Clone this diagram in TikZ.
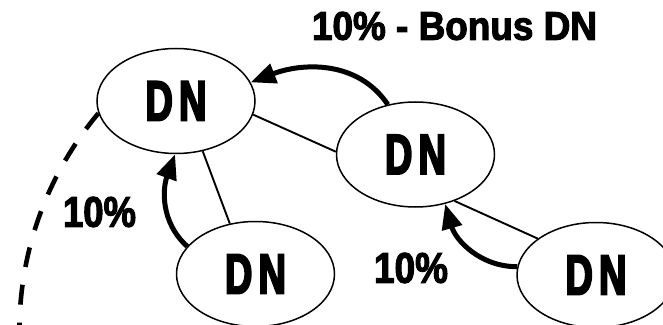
\documentclass[tikz,border=0pt]{standalone}
\usepackage{graphicx}
\usepackage{fontspec}
\newfontfamily\labfont[FakeStretch=0.72,FakeBold=3.5]{Liberation Sans}
\newfontfamily\capfont[FakeStretch=0.85,FakeBold=2.5]{Liberation Sans}
\usetikzlibrary{arrows.meta,shapes.geometric}
\newcommand\dntext{\resizebox{61pt}{39pt}{\labfont\bfseries\fontsize{54pt}{54pt}\selectfont D\kern0.12em N}}
\newcommand\pct[3]{\resizebox{#1}{#2}{\capfont\bfseries\fontsize{40pt}{40pt}\selectfont #3}}
\begin{document}
\begin{tikzpicture}[x=1pt,y=1pt,
  dn/.style={ellipse, draw, line width=1.5pt, inner sep=0pt, minimum width=158pt, minimum height=105pt},
  link/.style={line width=1.9pt},
  flow/.style={line width=5pt, -{Triangle[length=25pt,width=20pt]}},
  lab/.style={inner sep=0pt},
  dashline/.style={line width=4.6pt, dash pattern=on 20pt off 18pt}]
\useasboundingbox (0,0) rectangle (663,324);
\node[dn] (A) at (176,223) {\dntext};
\node[dn] (B) at (415.5,169.5) {\dntext};
\node[dn] (C) at (255.5,50) {\dntext};
\node[dn] (D) at (596,49) {\dntext};
\node[lab] (top) at (454.5,298) {\pct{285pt}{28pt}{10\% - Bonus DN}};
\node[lab] (l1) at (99.5,112) {\pct{73pt}{30pt}{10\%}};
\node[lab] (l2) at (411,56) {\pct{74pt}{30pt}{10\%}};
\draw[link] (A.-10) -- (B.178);
\draw[link] (A.-62.5) -- (C.117.5);
\draw[link] (B.-50) -- (D.148.6);
\draw[flow] (B.119) to[out=124,in=21] (A.14);
\draw[flow] (C.158) to[out=138,in=-110] (A.-91);
\draw[flow] (D.174) to[out=180,in=-74] (B.-59);
\draw[dashline] (A.189) arc[start angle=140, end angle=181, radius=337.5pt];
\end{tikzpicture}
\end{document}
